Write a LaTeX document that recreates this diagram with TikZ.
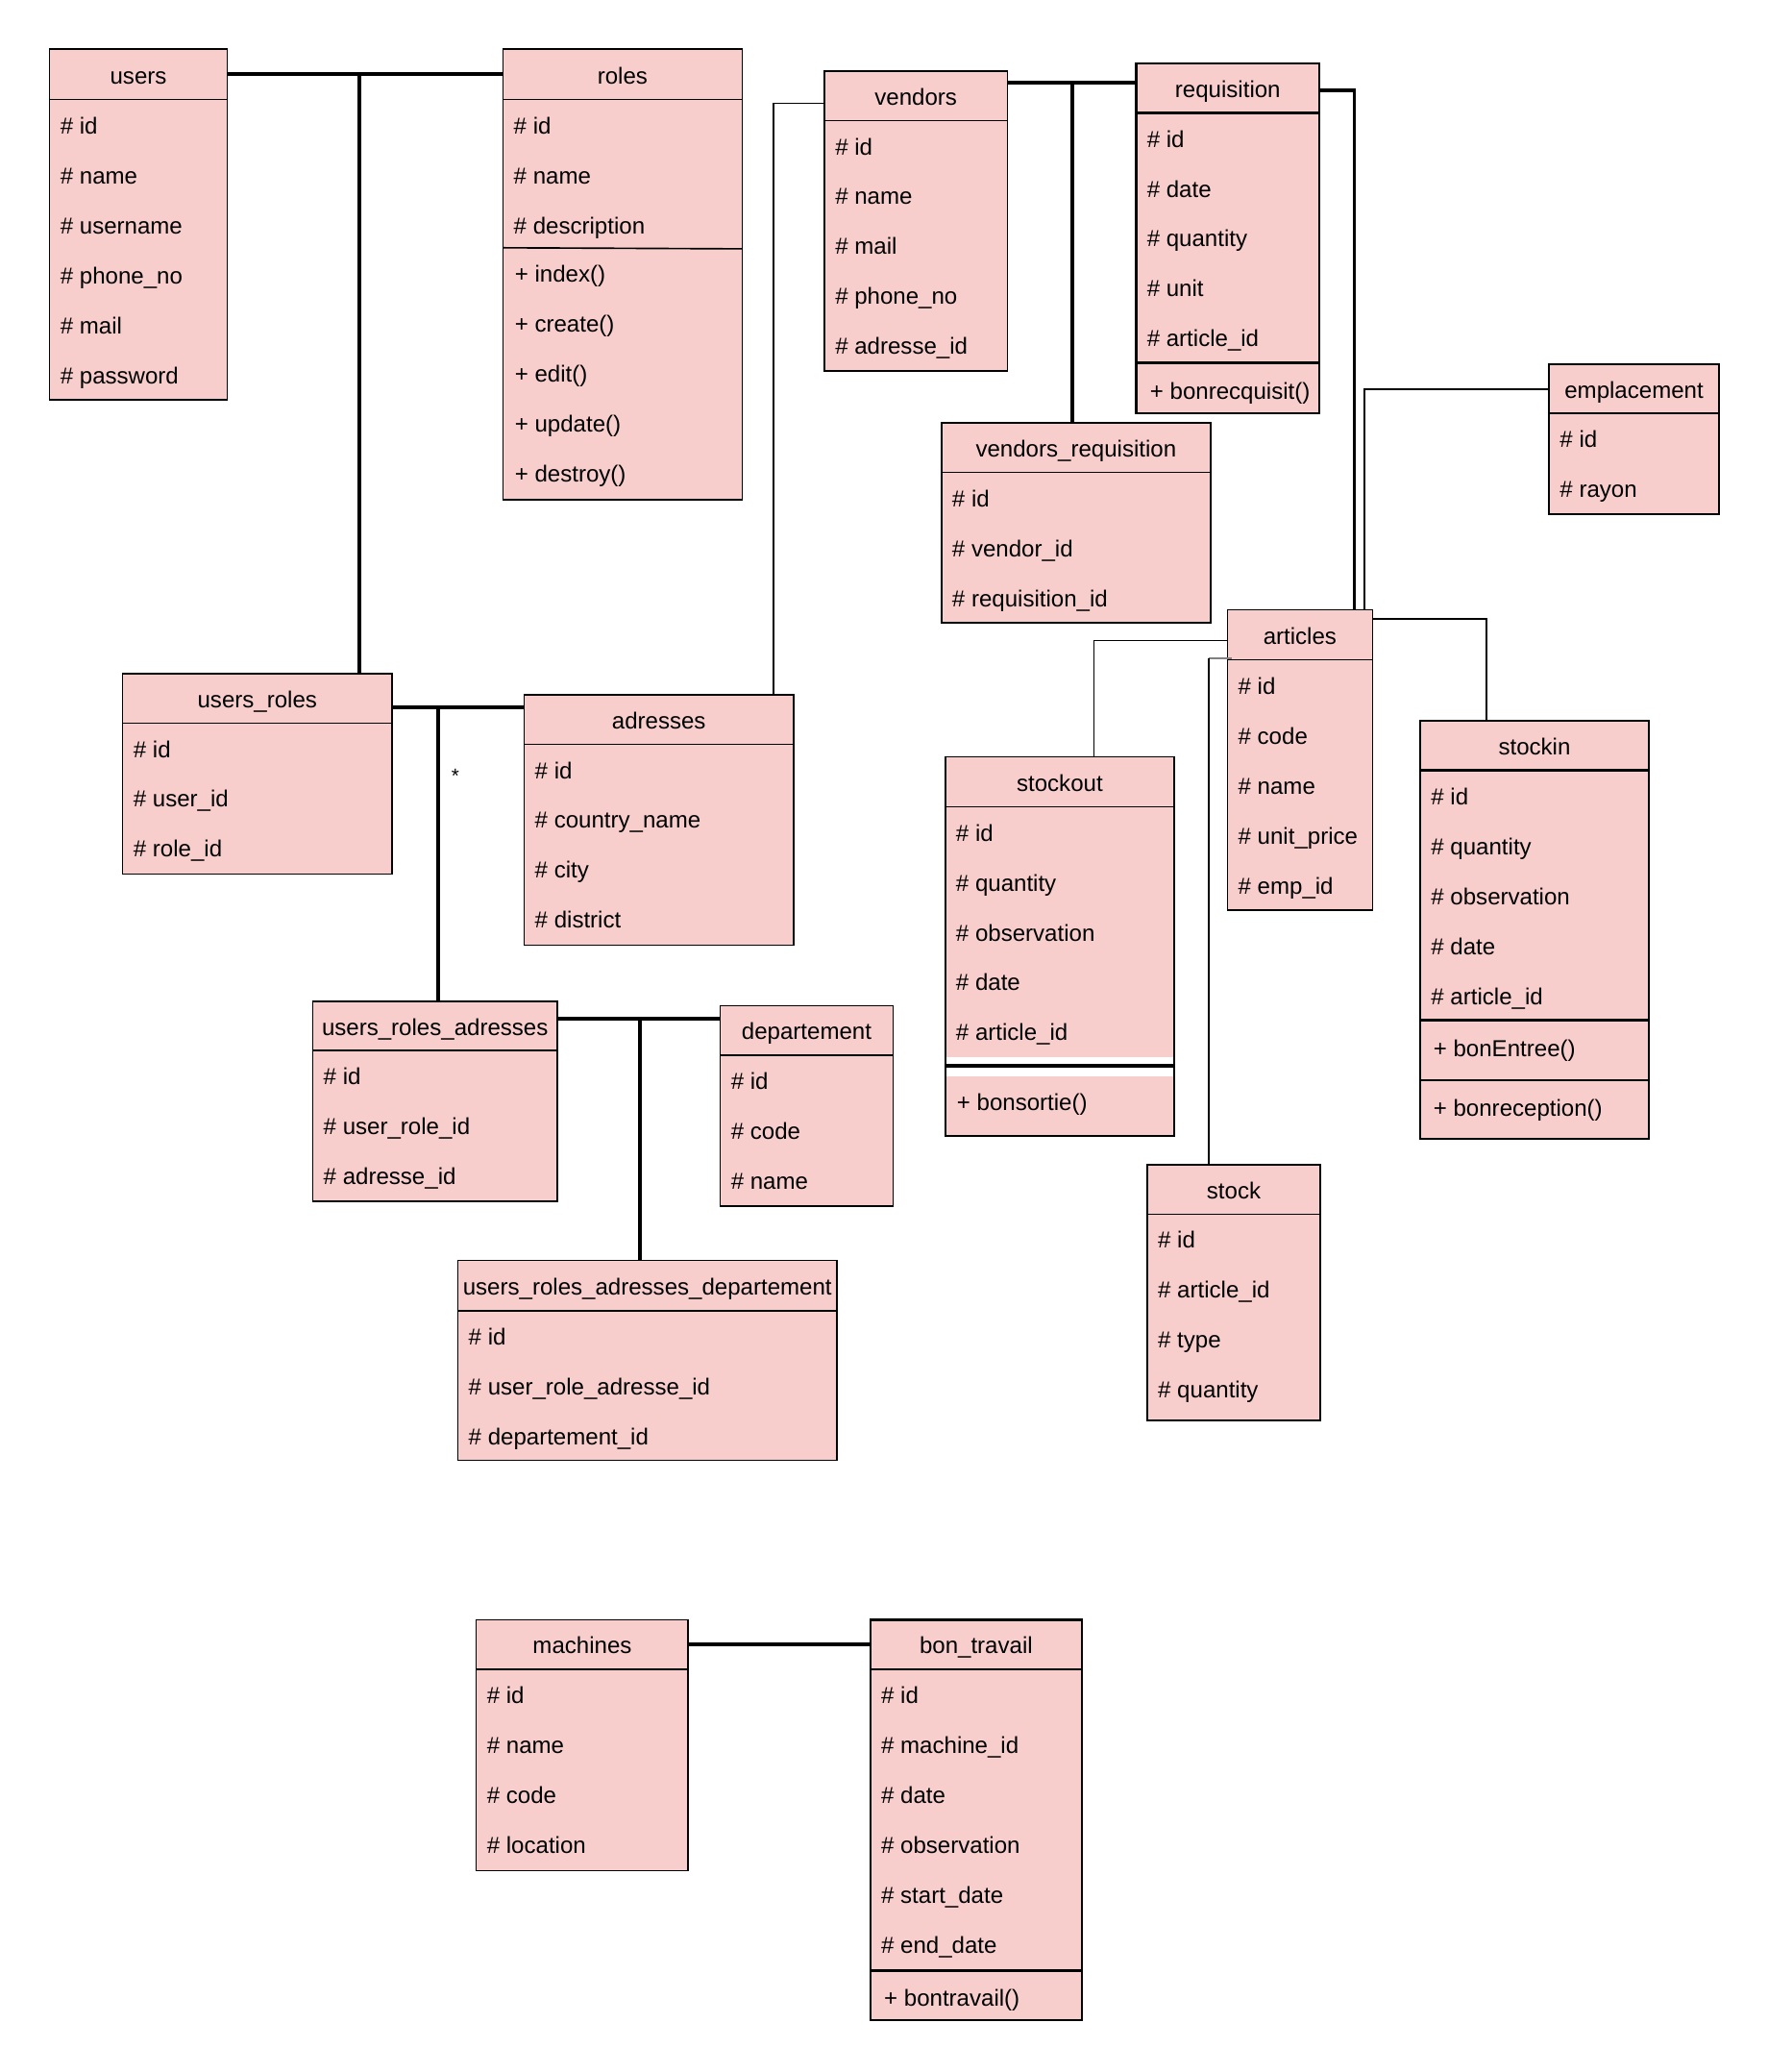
\documentclass[tikz,border=0pt]{standalone}
\usepackage{fontspec}
\setmainfont{Liberation Sans}
\usetikzlibrary{calc}
\definecolor{boxfill}{HTML}{F8CECC}
% #1 id, #2 left, #3 top, #4 right, #5 header bottom, #6 bottom, #7 title, #8 line width
\newcommand\umlcls[8]{%
  \node[bodyb, line width=#8, minimum width={#4-#2}, minimum height={#6-#5}, anchor=north west] (#1-b) at (#2,#5) {};
  \node[hdrb, line width=#8, minimum width={#4-#2}, minimum height={#5-#3}] (#1) at ({(#2+#4)/2},{(#3+#5)/2}) {#7};
}
% #1 id, #2 text x, #3 first row centre, #4 list
\newcommand\umlrows[4]{%
  \foreach \t [count=\i] in {#4} {\node[rowt] (#1-\i) at (#2,{#3+37.8*(\i-1)}) {\t};}
}
\begin{document}
\begin{tikzpicture}[x=1pt,y=-1pt,
  bodyb/.style={draw=black, fill=boxfill, rectangle, inner sep=0pt, outer sep=0pt},
  hdrb/.style={draw=black, fill=boxfill, rectangle, inner sep=0pt, outer sep=0pt,
    font=\fontsize{17.5}{21}\selectfont, text height=16pt, text depth=2pt},
  rowt/.style={inner sep=0pt, outer sep=0pt, anchor=west,
    font=\fontsize{17.5}{21}\selectfont, text height=16pt, text depth=2pt},
  thickc/.style={line width=2.8pt, draw=black},
  thinc/.style={line width=1.4pt, draw=black},
  sepl/.style={line width=1.2pt},
  thicksep/.style={line width=2pt}]
\fill[white] (0,0) rectangle (1338,1568);
\useasboundingbox (0,0) rectangle (1338,1568);

% ---------- junction points ----------
\coordinate (j1) at (272,55.2);
\coordinate (j2) at (331.4,535);
\coordinate (j3) at (484.2,770.6);
\coordinate (j4) at (811.7,62.3);
\coordinate (j5) at (585.5,78.2);
\coordinate (j6) at (1025.1,68.2);
\coordinate (j7) at (1033,294.5);
\coordinate (j8) at (1124.8,468.2);
\coordinate (j9) at (828,484.7);
\coordinate (j10) at (915,498.4);

% ---------- classes ----------
\umlcls{users}{37.5}{37.3}{172}{75.3}{302.6}{users}{1.2pt}
\umlrows{users}{45.7}{94.2}{\# id,\# name,\# username,\# phone\_no,\# mail,\# password}

\umlcls{roles}{380.7}{37.3}{561.7}{75.3}{378.2}{roles}{1.2pt}
\umlrows{roles}{388.9}{94.2}{\# id,\# name,\# description}
\draw[sepl] (380.7,187.5) -- (561.7,188.3);
\umlrows{rolesm}{389.7}{206.6}{+ index(),+ create(),+ edit(),+ update(),+ destroy()}

\umlcls{ven}{624}{53.6}{762.5}{91.2}{280.9}{vendors}{1.2pt}
\umlrows{ven}{632.2}{110.1}{\# id,\# name,\# mail,\# phone\_no,\# adresse\_id}

\umlcls{req}{860}{48}{998.6}{85.4}{312.7}{requisition}{1.7pt}
\umlrows{req}{868.2}{104.3}{\# id,\# date,\# quantity,\# unit,\# article\_id}
\draw[thicksep] (860,274.7) -- (998.6,274.7);
\umlrows{reqm}{870.5}{295}{+ bonrecquisit()}

\umlcls{emp}{1172.5}{275.7}{1301}{312.9}{389}{emplacement}{1.6pt}
\umlrows{emp}{1180.7}{331.8}{\# id,\# rayon}

\umlcls{vr}{712.5}{319.8}{916.4}{357.5}{471.4}{vendors\_requisition}{1.2pt}
\umlrows{vr}{720.7}{376.4}{\# id,\# vendor\_id,\# requisition\_id}

\umlcls{art}{929}{461.4}{1038.8}{499.3}{688.7}{articles}{1.2pt}
\umlrows{art}{937.2}{518.2}{\# id,\# code,\# name,\# unit\_price,\# emp\_id}

\umlcls{ur}{92.8}{509.8}{296.7}{547.2}{661.5}{users\_roles}{1.2pt}
\umlrows{ur}{101}{566.1}{\# id,\# user\_id,\# role\_id}

\umlcls{adr}{396.7}{525.7}{600.7}{563.2}{715.3}{adresses}{1.2pt}
\umlrows{adr}{404.9}{582.1}{\# id,\# country\_name,\# city,\# district}

\umlcls{sout}{715.4}{572.6}{888.8}{610.5}{859.7}{stockout}{1.2pt}
\umlrows{sout}{723.6}{629.4}{\# id,\# quantity,\# observation,\# date,\# article\_id}
\fill[white] (716,799.7) rectangle (888.2,814.5);
\draw[line width=3pt] (715.4,806.6) -- (888.8,806.6);
\umlrows{soutm}{724.3}{833}{+ bonsortie()}

\umlcls{sin}{1075}{545.5}{1247.9}{583}{862}{stockin}{1.7pt}
\umlrows{sin}{1083.2}{601.9}{\# id,\# quantity,\# observation,\# date,\# article\_id}
\draw[thicksep] (1075,772.2) -- (1247.9,772.2);
\draw[thicksep] (1075,817.5) -- (1247.9,817.5);
\umlrows{sinm}{1085}{792.4}{+ bonEntree()}
\umlrows{sinr}{1085}{837.6}{+ bonreception()}

\umlcls{stk}{868.3}{881.3}{999.3}{918.8}{1075}{stock}{1.2pt}
\umlrows{stk}{876.5}{937.7}{\# id,\# article\_id,\# type,\# quantity}

\umlcls{ura}{236.7}{758}{421.8}{795}{909}{users\_roles\_adresses}{1.2pt}
\umlrows{ura}{244.9}{813.9}{\# id,\# user\_role\_id,\# adresse\_id}

\umlcls{dep}{545.1}{761}{676}{798.6}{912.7}{departement}{1.2pt}
\umlrows{dep}{553.3}{817.5}{\# id,\# code,\# name}

\umlcls{urad}{346.5}{953.9}{633.5}{991.8}{1105}{users\_roles\_adresses\_departement}{1.2pt}
\umlrows{urad}{354.7}{1010.7}{\# id,\# user\_role\_adresse\_id,\# departement\_id}

\umlcls{mac}{360.4}{1225.8}{521}{1263.4}{1415.6}{machines}{1.3pt}
\umlrows{mac}{368.6}{1282.3}{\# id,\# name,\# code,\# location}

\umlcls{bt}{658.8}{1225.8}{818.8}{1263.4}{1528.7}{bon\_travail}{1.6pt}
\umlrows{bt}{667}{1282.3}{\# id,\# machine\_id,\# date,\# observation,\# start\_date,\# end\_date}
\draw[thicksep] (658.8,1491.2) -- (818.8,1491.2);
\umlrows{btm}{669.2}{1511.3}{+ bontravail()}

% ---------- connectors ----------
\draw[thickc] (users.east) -- (roles.west);
\draw[thickc] (j1) -- (j1 |- ur.north);
\draw[thickc] (j2 -| ur.east) -- (j2 -| adr.west);
\draw[thickc] (j2) -- (j2 |- ura.north);
\draw[thickc] (j3 -| ura.east) -- (j3 -| dep.west);
\draw[thickc] (j3) -- (j3 |- urad.north);
\draw[thickc] (j4 -| ven.east) -- (j4 -| req.west);
\draw[thickc] (j4) -- (j4 |- vr.north);
\draw[thinc] (j5 -| ven.west) -- (j5) -- (j5 |- adr.north);
\draw[thickc] (j6 -| req.east) -- (j6) -- (j6 |- art.north);
\draw[thinc] (j7 -| emp.west) -- (j7) -- (j7 |- art.north);
\draw[thinc] (j8 -| art.east) -- (j8) -- (j8 |- sin.north);
\draw[thinc] (j9 -| art.west) -- (j9) -- (j9 |- sout.north);
\draw[line width=1.2pt, gray] (j10) -- ($(j10 -| art.west)+(3,0)$);
\draw[thinc] (j10) -- (j10 |- stk.north);
\draw[thickc] (mac.east) -- (bt.west);
\node[font=\fontsize{15}{17}\selectfont, inner sep=0pt] (star) at (344.7,587) {*};
\end{tikzpicture}
\end{document}
